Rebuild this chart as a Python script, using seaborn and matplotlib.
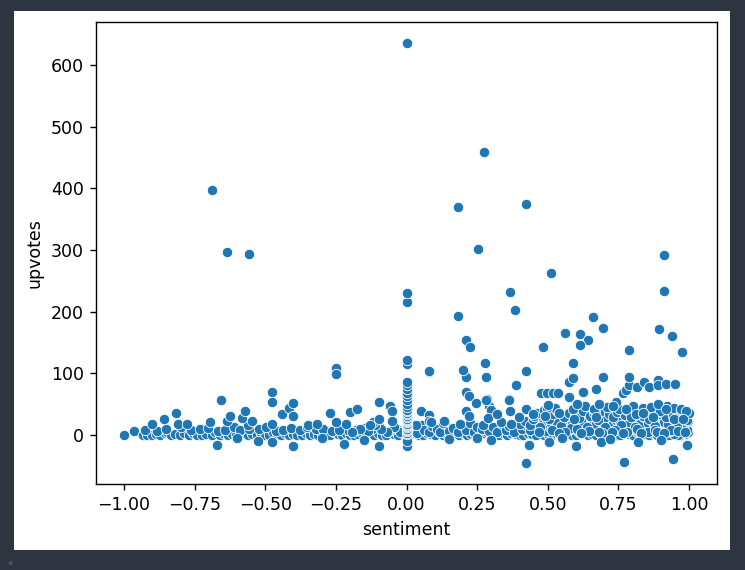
import numpy as np
import pandas as pd
import seaborn as sns
import matplotlib.pyplot as plt
from matplotlib.patches import Rectangle

# === 1. Data ===
# dense band near zero
band_x = [-0.999, -0.963, -0.931, -0.917, -0.902, -0.888, -0.871, -0.855, -0.846, -0.832,
          -0.818, -0.801, -0.786, -0.770, -0.757, -0.742, -0.722, -0.708, -0.690, -0.676,
          -0.661, -0.648, -0.633, -0.619, -0.602, -0.590, -0.575, -0.561, -0.547, -0.530,
          -0.516, -0.502, -0.488, -0.471, -0.458, -0.443, -0.429, -0.415, -0.400, -0.386,
          -0.371, -0.356, -0.343, -0.329, -0.314, -0.300, -0.286, -0.271, -0.258, -0.243,
          -0.229, -0.214, -0.200, -0.186, -0.171, -0.157, -0.143, -0.129, -0.114, -0.100,
          -0.086, -0.071, -0.057, -0.043, -0.029, -0.014, 0.000, 0.014, 0.029, 0.043,
          0.057, 0.071, 0.086, 0.100, 0.114, 0.129, 0.143, 0.157, 0.171, 0.186,
          0.200, 0.214, 0.229, 0.243, 0.257, 0.271, 0.286, 0.300, 0.314, 0.329,
          0.343, 0.357, 0.371, 0.386, 0.400, 0.414, 0.429, 0.443, 0.457, 0.471,
          0.486, 0.500, 0.514, 0.529, 0.543, 0.557, 0.571, 0.586, 0.600, 0.614,
          0.629, 0.643, 0.657, 0.671, 0.686, 0.700, 0.714, 0.729, 0.743, 0.757,
          0.771, 0.786, 0.800, 0.814, 0.829, 0.843, 0.857, 0.871, 0.886, 0.900,
          0.914, 0.929, 0.943, 0.957, 0.971, 0.986, 0.995, 0.978, 0.962, 0.948]
band_y = [0, 6, 0, 0, 0, 1, 0, 2, 4, 0,
          1, 0, 3, 0, 2, 0, 0, 1, 0, 4,
          0, 2, 0, 1, 0, 0, 3, 0, 1, 0,
          2, 0, 0, 4, 1, 0, 2, 0, 1, 0,
          0, 3, 0, 1, 0, 2, 0, 0, 4, 1,
          0, 2, 0, 0, 1, 3, 0, 1, 0, 2,
          0, 0, 4, 1, 0, 2, 0, 1, 3, 0,
          0, 2, 1, 0, 4, 0, 1, 0, 2, 0,
          3, 0, 1, 0, 0, 2, 4, 0, 1, 0,
          2, 0, 3, 1, 0, 0, 2, 1, 0, 4,
          0, 1, 0, 3, 0, 2, 1, 0, 0, 2,
          4, 0, 1, 0, 2, 0, 3, 1, 0, 0,
          2, 1, 0, 4, 0, 1, 0, 2, 0, 3,
          1, 0, 2, 0, 0, 1, 4, 2, 0, 1]

# upper edge of the band
low_x = [-0.925, -0.884, -0.852, -0.798, -0.764, -0.731, -0.702, -0.668, -0.641, -0.612,
         -0.588, -0.556, -0.521, -0.497, -0.463, -0.438, -0.409, -0.377, -0.352, -0.321,
         -0.296, -0.264, -0.236, -0.207, -0.179, -0.148, -0.121, -0.093, -0.062, -0.034,
         -0.008, 0.022, 0.048, 0.066, 0.093, 0.121, 0.148, 0.176, 0.205, 0.232,
         0.262, 0.291, 0.318, 0.348, 0.378, 0.404, 0.433, 0.462, 0.478, 0.492,
         0.508, 0.522, 0.537, 0.551, 0.566, 0.579, 0.594, 0.607, 0.621, 0.636,
         0.651, 0.664, 0.679, 0.692, 0.706, 0.721, 0.735, 0.748, 0.762, 0.777,
         0.791, 0.806, 0.819, 0.834, 0.848, 0.862, 0.876, 0.891, 0.905, 0.919,
         0.934, 0.948, 0.963, 0.977, 0.991, 0.712, 0.783, 0.852, 0.925, 0.968]
low_y = [8, 6, 10, 12, 7, 9, 11, 6, 8, 13,
         7, 10, 9, 12, 6, 8, 11, 7, 13, 9,
         10, 6, 12, 8, 7, 11, 9, 13, 6, 10,
         8, 12, 7, 9, 11, 6, 10, 8, 13, 7,
         9, 12, 6, 11, 8, 10, 7, 13, 9, 6,
         12, 8, 10, 7, 11, 9, 13, 6, 8, 12,
         10, 7, 9, 11, 6, 13, 8, 10, 12, 7,
         9, 11, 6, 8, 13, 10, 7, 12, 9, 11,
         6, 10, 8, 13, 7, 9, 12, 11, 6, 8]

# extra fill in the centre of the band
centre_x = [0.008, 0.019, 0.037, 0.054, 0.062, 0.078, 0.091, 0.108, 0.118, 0.135,
            0.152, 0.163, 0.181, 0.196, 0.212, 0.224, 0.238, 0.251, 0.266, 0.279,
            0.293, 0.306, 0.321, 0.338, 0.352, 0.364, 0.379, 0.393, 0.409, 0.424,
            0.438, -0.022, -0.045, -0.068, -0.089, -0.112, -0.138, -0.166, -0.193, -0.238]
centre_y = [5, 12, 3, 16, 8, 4, 14, 9, 5, 18,
            6, 11, 4, 15, 7, 19, 5, 12, 9, 16,
            6, 13, 4, 18, 8, 14, 5, 20, 10, 16,
            7, 5, 12, 4, 9, 15, 6, 10, 4, 8]

mid_x = [0.402, 0.418, 0.437, 0.452, 0.468, 0.483, 0.497, 0.512, 0.527, 0.541,
         0.556, 0.571, 0.586, 0.598, 0.613, 0.627, 0.642, 0.657, 0.671, 0.686,
         0.699, 0.714, 0.727, 0.742, 0.756, 0.769, 0.784, 0.797, 0.812, 0.826,
         0.841, 0.855, 0.868, 0.883, 0.897, 0.911, 0.926, 0.939, 0.954, 0.969,
         0.983, 0.996, 0.447, 0.533, 0.618, 0.703, 0.788, 0.873, 0.958, 0.566,
         -0.350, -0.215, -0.120, 0.035, 0.128, 0.190, 0.270, 0.335, 0.370, -0.560]
mid_y = [18, 22, 15, 27, 20, 17, 24, 19, 28, 16,
         21, 25, 18, 23, 16, 29, 20, 26, 17, 22,
         19, 27, 15, 24, 21, 18, 26, 20, 23, 17,
         28, 19, 22, 16, 25, 20, 18, 27, 21, 24,
         17, 23, 26, 19, 22, 28, 20, 25, 16, 30,
         16, 18, 20, 15, 19, 17, 16, 21, 18, 15]

# crowded positive side
right_x = [0.452, 0.461, 0.474, 0.488, 0.503, 0.517, 0.531, 0.546, 0.558, 0.574,
           0.583, 0.597, 0.611, 0.624, 0.638, 0.649, 0.663, 0.677, 0.689, 0.703,
           0.718, 0.731, 0.744, 0.759, 0.772, 0.781, 0.795, 0.808, 0.823, 0.837,
           0.846, 0.859, 0.867, 0.879, 0.893, 0.902, 0.917, 0.931, 0.944, 0.958,
           0.966, 0.981, 0.992, 0.469, 0.515, 0.562, 0.604, 0.646, 0.693, 0.737,
           0.779, 0.816, 0.853, 0.881, 0.907, 0.936, 0.961, 0.987, 0.526, 0.588,
           0.632, 0.668, 0.709, 0.752, 0.801, 0.838, 0.864, 0.896, 0.921, 0.947,
           0.972, 0.999, 0.541, 0.617, 0.681, 0.726, 0.766, 0.829, 0.887, 0.913]
right_y = [30, 35, 12, 40, 26, 33, 38, 14, 29, 36,
           11, 32, 27, 38, 13, 31, 35, 24, 39, 12,
           34, 29, 37, 15, 32, 40, 28, 13, 35, 30,
           38, 26, 42, 14, 33, 37, 28, 40, 31, 12,
           36, 30, 24, 5, 8, 4, 9, 6, 3, 8,
           5, 9, 4, 7, 3, 8, 6, 5, 44, 42,
           46, 38, 45, 41, 47, 43, 45, 39, 46, 44,
           40, 35, 3, 2, 5, 4, 3, 2, 4, 3]

# scattered points 15-120
upper_x = [-0.902, -0.860, -0.816, -0.810, -0.778, -0.697, -0.656, -0.636, -0.624, -0.583,
           -0.571, -0.547, -0.476, -0.476, -0.476, -0.441, -0.417, -0.400, -0.400, -0.317,
           -0.272, -0.249, -0.249, -0.249, -0.201, -0.175, -0.128, -0.098, -0.098, -0.057,
           -0.051, -0.051, 0.079, 0.050, 0.079, 0.079, 0.085, 0.132, 0.209, 0.209,
           0.209, 0.220, 0.220, 0.245, 0.280, 0.286, 0.292, 0.300, 0.290, 0.322,
           0.363, 0.365, 0.363, 0.387, 0.399, 0.422, 0.446, 0.475, 0.499, 0.499,
           0.490, 0.520, 0.535, 0.500, 0.540, 0.576, 0.576, 0.590, 0.605, 0.623,
           0.664, 0.670, 0.682, 0.694, 0.741, 0.765, 0.778, 0.788, 0.788, 0.776,
           0.817, 0.812, 0.836, 0.842, 0.857, 0.889, 0.889, 0.889, 0.918, 0.918,
           0.950, 0.972, 0.990, 0.593, 0.670, 0.871, 0.948, 0.980, 0.280, 0.731]
upper_y = [17, 26, 36, 17, 17, 20, 57, 23, 31, 27,
           38, 22, 70, 53, 17, 33, 44, 51, 31, 17,
           36, 109, 98, 20, 37, 42, 15, 53, 25, 47,
           38, 22, 101, 39, 32, 22, 20, 23, 93, 69,
           39, 63, 31, 51, 94, 58, 47, 40, 27, 34,
           58, 39, 57, 80, 28, 42, 34, 67, 68, 44,
           31, 67, 68, 48, 35, 85, 61, 92, 50, 70,
           42, 74, 50, 93, 53, 67, 72, 80, 93, 42,
           77, 34, 36, 85, 77, 88, 81, 50, 83, 42,
           82, 42, 39, 25, 28, 28, 26, 25, 56, 47]

neg_x = [-0.671, -0.524, -0.476, -0.400, -0.222, -0.098, 0.000, 0.000, 0.434, 0.422,
         0.505, 0.600, 0.688, 0.770, 0.942, 0.993, 0.820, -0.300, 0.150, 0.300,
         -0.600, 0.900, 0.550, 0.720, -0.150, 0.250]
neg_y = [-17, -10, -12, -18, -15, -18, -18, -10, -17, -46,
         -12, -18, -12, -45, -40, -17, -12, -6, -7, -8,
         -5, -8, -6, -7, -8, -5]

# neutral posts stacked at sentiment 0
zero_y = [1, 3, 6, 8, 10, 12, 14, 16, 18, 20, 22, 24, 26, 28, 30, 33, 35, 38, 40,
          45, 50, 56, 62, 68, 74, 80, 86, 115, 121, 215, 230, 636]

top_x = [-0.688, -0.635, -0.556, 0.275, 0.181, 0.424, 0.252, 0.913, 0.513, 0.368,
         0.913, 0.385, 0.181, 0.660, 0.696, 0.895, 0.209, 0.939, 0.615, 0.561,
         0.642, 0.226, 0.482, 0.615, 0.788, 0.975, 0.279, 0.589, 0.079, 0.199, 0.424]
top_y = [398, 296, 294, 459, 370, 374, 301, 292, 262, 231,
         234, 203, 193, 191, 173, 171, 154, 160, 163, 165,
         154, 142, 142, 146, 138, 134, 116, 116, 104, 105, 104]

sentiment = (band_x + low_x + centre_x + mid_x + right_x + upper_x + neg_x
             + [0.0] * len(zero_y) + top_x)
upvotes = (band_y + low_y + centre_y + mid_y + right_y + upper_y + neg_y
           + zero_y + top_y)
df = pd.DataFrame({'sentiment': sentiment, 'upvotes': upvotes})

# === 2. Figure with the dark notebook frame ===
W, H = 745, 570
fig = plt.figure(figsize=(W / 125, H / 125), dpi=125, facecolor='#2e3440')
fig.patches.append(Rectangle((14 / W, 20 / H), 716 / W, 539 / H,
                             transform=fig.transFigure, facecolor='white',
                             edgecolor='none', zorder=-1))
ax = fig.add_axes([96 / W, (H - 484) / H, 621 / W, 462 / H])

sns.scatterplot(data=df, x='sentiment', y='upvotes', ax=ax)

fig.text(10 / W, 7 / H, '\u25c0', color='#4c5566', fontsize=4, ha='center', va='center')

plt.savefig('out.png', dpi=125, facecolor=fig.get_facecolor())
